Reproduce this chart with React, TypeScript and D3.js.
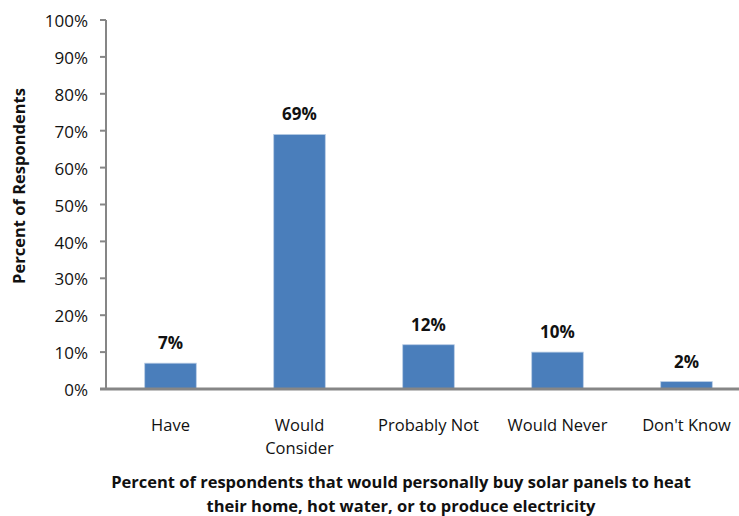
import React from "react";
import * as d3 from "d3";

const categories: string[][] = [["Have"], ["Would", "Consider"], ["Probably Not"], ["Would Never"], ["Don't Know"]];
const values: number[] = [7, 69, 12, 10, 2];
const yTicks: number[] = [0, 10, 20, 30, 40, 50, 60, 70, 80, 90, 100];
const yTitle = "Percent of Respondents";
const xTitleLines: string[] = [
  "Percent of respondents that would personally buy solar panels to heat",
  "their home, hot water, or to produce electricity",
];

const W = 739;
const H = 516;
const left = 106;
const top = 20;
const bottom = 389;
const step = 129;
const font = "'Open Sans', sans-serif";

export default function App() {
  const keys = categories.map((_, i) => String(i));
  const x = d3.scaleBand<string>().domain(keys).range([left, left + step * keys.length]).paddingInner(0.6).paddingOuter(0.3);
  const y = d3.scaleLinear().domain([0, 100]).range([bottom, top]);
  const axisColor = "#868686";
  return (
    <svg width={W} height={H} style={{ position: "absolute", left: 0, top: 0, background: "#fff" }}>
      {/* bars */}
      {values.map((v, i) => (
        <rect
          key={i}
          x={x(keys[i])!}
          y={y(v)}
          width={x.bandwidth()}
          height={bottom - y(v)}
          fill="#4a7ebb"
          stroke="#b9cde5"
          strokeWidth={0.8}
        />
      ))}
      {/* data labels */}
      {values.map((v, i) => (
        <text
          key={"l" + i}
          x={x(keys[i])! + x.bandwidth() / 2}
          y={y(v) - 14}
          textAnchor="middle"
          fontFamily={font}
          fontWeight="bold"
          fontSize={17}
          fill="#111"
        >
          {v}%
        </text>
      ))}
      {/* y axis */}
      <line x1={left} x2={left} y1={top} y2={bottom} stroke={axisColor} strokeWidth={2} />
      {yTicks.map((t) => (
        <g key={t}>
          <line x1={left - 6} x2={left} y1={y(t)} y2={y(t)} stroke={axisColor} strokeWidth={2} />
          <text x={88} y={y(t)} dy="0.42em" textAnchor="end" fontFamily={font} fontSize={17} fill="#111">
            {t}%
          </text>
        </g>
      ))}
      {/* x axis */}
      <line x1={left - 6} x2={W} y1={bottom} y2={bottom} stroke={axisColor} strokeWidth={3} />
      {categories.map((lines, i) => (
        <text
          key={"c" + i}
          x={x(keys[i])! + x.bandwidth() / 2}
          y={431}
          textAnchor="middle"
          fontFamily={font}
          fontSize={16.5}
          fill="#111"
        >
          {lines.map((ln, j) => (
            <tspan key={j} x={x(keys[i])! + x.bandwidth() / 2} dy={j === 0 ? 0 : 23}>
              {ln}
            </tspan>
          ))}
        </text>
      ))}
      {/* x title */}
      {xTitleLines.map((ln, j) => (
        <text
          key={"t" + j}
          x={401}
          y={488 + j * 24}
          textAnchor="middle"
          fontFamily={font}
          fontWeight="bold"
          fontSize={16.5}
          fill="#111"
        >
          {ln}
        </text>
      ))}
      {/* y title */}
      <text
        transform={`translate(25,186) rotate(-90)`}
        textAnchor="middle"
        fontFamily={font}
        fontWeight="bold"
        fontSize={16.5}
        fill="#111"
      >
        {yTitle}
      </text>
    </svg>
  );
}
